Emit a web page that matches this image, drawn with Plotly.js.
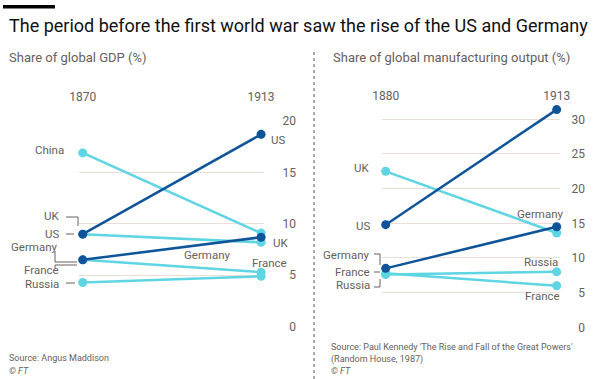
<!DOCTYPE html>
<html>
<head>
<meta charset="utf-8">
<script src="https://cdn.plot.ly/plotly-3.0.1.min.js"></script>
<style>html,body{margin:0;padding:0;background:#fff;}#chart{width:600px;height:379px;}</style>
</head>
<body>
<div id="chart"></div>
<script>
// ---- Data ----
const gdpYears = [1870, 1913];
const gdpChina = [16.9, 9.1];
const gdpUK = [9.0, 8.2];
const gdpUS = [9.0, 18.7];
const gdpGermany = [6.5, 8.7];
const gdpFrance = [6.5, 5.3];
const gdpRussia = [4.3, 4.9];
const gdpTicks = [0, 5, 10, 15, 20];

const mfgYears = [1880, 1913];
const mfgUK = [22.5, 13.6];
const mfgUS = [14.8, 31.4];
const mfgGermany = [8.5, 14.5];
const mfgFrance = [7.8, 6.0];
const mfgRussia = [7.6, 8.0];
const mfgTicks = [0, 5, 10, 15, 20, 25, 30];

// ---- Styles ----
const DARK = '#0f5499';
const LIGHT = '#5fd4e3';
const GREY = '#66605c';
const GRID = '#eadfd6';
const FONT = 'Roboto, "Open Sans", sans-serif';
const W = 600, H = 379;
const px = x => x / W;
const py = y => 1 - y / H;

function line(x, y, color, xa, ya) {
  return {x: x, y: y, xaxis: xa, yaxis: ya, type: 'scatter', mode: 'lines+markers',
    line: {color: color, width: 2.5}, marker: {color: color, size: 9},
    cliponaxis: false, hoverinfo: 'skip'};
}

const traces = [
  line(gdpYears, gdpChina, LIGHT, 'x', 'y'),
  line(gdpYears, gdpUK, LIGHT, 'x', 'y'),
  line(gdpYears, gdpFrance, LIGHT, 'x', 'y'),
  line(gdpYears, gdpRussia, LIGHT, 'x', 'y'),
  line(gdpYears, gdpGermany, DARK, 'x', 'y'),
  line(gdpYears, gdpUS, DARK, 'x', 'y'),
  line(mfgYears, mfgUK, LIGHT, 'x2', 'y2'),
  line(mfgYears, mfgFrance, LIGHT, 'x2', 'y2'),
  line(mfgYears, mfgRussia, LIGHT, 'x2', 'y2'),
  line(mfgYears, mfgGermany, DARK, 'x2', 'y2'),
  line(mfgYears, mfgUS, DARK, 'x2', 'y2')
];

function lbl(text, x, y, anchor, size, extra) {
  return Object.assign({text: text, xref: 'paper', yref: 'paper', x: px(x), y: py(y),
    xanchor: anchor, yanchor: 'middle', showarrow: false,
    font: {family: FONT, size: size || 11.5, color: GREY}}, extra || {});
}

const annotations = [
  lbl('The period before the first world war saw the rise of the US and Germany', 7, 26, 'left', 18, {font: {family: FONT, size: 18, color: '#111'}}),
  lbl('Share of global GDP (%)', 7, 57, 'left', 13),
  lbl('Share of global manufacturing output (%)', 331, 57, 'left', 13),
  lbl('Source: Angus Maddison', 7, 358, 'left', 9),
  lbl('<i>© FT</i>', 7, 371, 'left', 9),
  lbl("Source: Paul Kennedy 'The Rise and Fall of the Great Powers'", 329, 347, 'left', 9),
  lbl('(Random House, 1987)', 329, 359, 'left', 9),
  lbl('<i>© FT</i>', 329, 371, 'left', 9),
  // left chart labels
  lbl('China', 66, 150, 'right'),
  lbl('UK', 61, 216, 'right'),
  lbl('US', 61, 233.5, 'right'),
  lbl('Germany', 60, 246.5, 'right'),
  lbl('France', 61, 270, 'right'),
  lbl('Russia', 61, 283.5, 'right'),
  lbl('US', 269, 140, 'left'),
  lbl('UK', 271, 243, 'left'),
  lbl('Germany', 182, 255, 'left'),
  lbl('France', 250, 263, 'left'),
  // right chart labels
  lbl('UK', 371, 168, 'right'),
  lbl('US', 372, 226, 'right'),
  lbl('Germany', 372, 255, 'right'),
  lbl('France', 372, 271.5, 'right'),
  lbl('Russia', 372, 284.5, 'right'),
  lbl('Germany', 566, 214, 'right'),
  lbl('Russia', 560, 262, 'right'),
  lbl('France', 562, 296, 'right')
];

function seg(x0, y0, x1, y1, color, width, dash) {
  return {type: 'line', xref: 'paper', yref: 'paper', x0: px(x0), y0: py(y0), x1: px(x1), y1: py(y1),
    line: {color: color || GREY, width: width || 1, dash: dash || 'solid'}};
}

const shapes = [
  {type: 'rect', xref: 'paper', yref: 'paper', x0: px(3), x1: px(55), y0: py(5), y1: py(8.5), fillcolor: '#000', line: {width: 0}},
  seg(314, 52, 314, 379, '#555', 1, 'dot'),
  // left leaders
  seg(66, 217, 78, 217), seg(78, 217, 78, 226),
  seg(66, 234, 74, 234),
  seg(55, 251, 55, 262), seg(55, 262, 77, 262),
  seg(55, 265, 77, 265), seg(55, 265, 55, 268),
  seg(66, 283, 75, 283),
  // right leaders
  seg(374, 254, 380, 254), seg(380, 254, 380, 265),
  seg(374, 272, 380, 272),
  seg(374, 287, 380, 287), seg(380, 287, 380, 279)
];

const axisFont = {family: FONT, size: 12, color: GREY};

// right panel: 0 at y=327.3px, 30 at y=119.3px; extend range to 32 so the top line isn't clipped
const mfgTop = 32;
const mfgPxPerUnit = (327.3 - 119.3) / 30;

const layout = {
  width: W, height: H,
  margin: {l: 0, r: 0, t: 0, b: 0},
  paper_bgcolor: '#fff', plot_bgcolor: 'rgba(0,0,0,0)',
  showlegend: false,
  font: {family: FONT, color: GREY},
  xaxis: {domain: [px(79), px(264)], range: [1869.1, 1913.7], side: 'top',
    tickvals: gdpYears, ticktext: gdpYears.map(String), showgrid: false, zeroline: false,
    showline: false, ticks: '', tickfont: axisFont, ticklabelstandoff: 17, fixedrange: true},
  yaxis: {domain: [py(326.7), py(121)], range: [0, 20], anchor: 'free', position: px(296), side: 'left',
    tickvals: gdpTicks, showgrid: true, gridcolor: GRID, gridwidth: 1, zeroline: false,
    showline: false, ticks: '', tickfont: axisFont, fixedrange: true},
  xaxis2: {domain: [px(381.7), px(560)], range: [1879.23, 1913.64], side: 'top', anchor: 'y2',
    tickvals: mfgYears, ticktext: mfgYears.map(String), showgrid: false, zeroline: false,
    showline: false, ticks: '', tickfont: axisFont, ticklabelstandoff: 2, fixedrange: true},
  yaxis2: {domain: [py(327.3), py(327.3 - mfgTop * mfgPxPerUnit)], range: [0, mfgTop], anchor: 'free', position: px(585), side: 'left',
    tickvals: mfgTicks, showgrid: true, gridcolor: GRID, gridwidth: 1, zeroline: false,
    showline: false, ticks: '', tickfont: axisFont, fixedrange: true},
  annotations: annotations,
  shapes: shapes
};

Plotly.newPlot('chart', traces, layout, {displayModeBar: false, staticPlot: true});
</script>
</body>
</html>
